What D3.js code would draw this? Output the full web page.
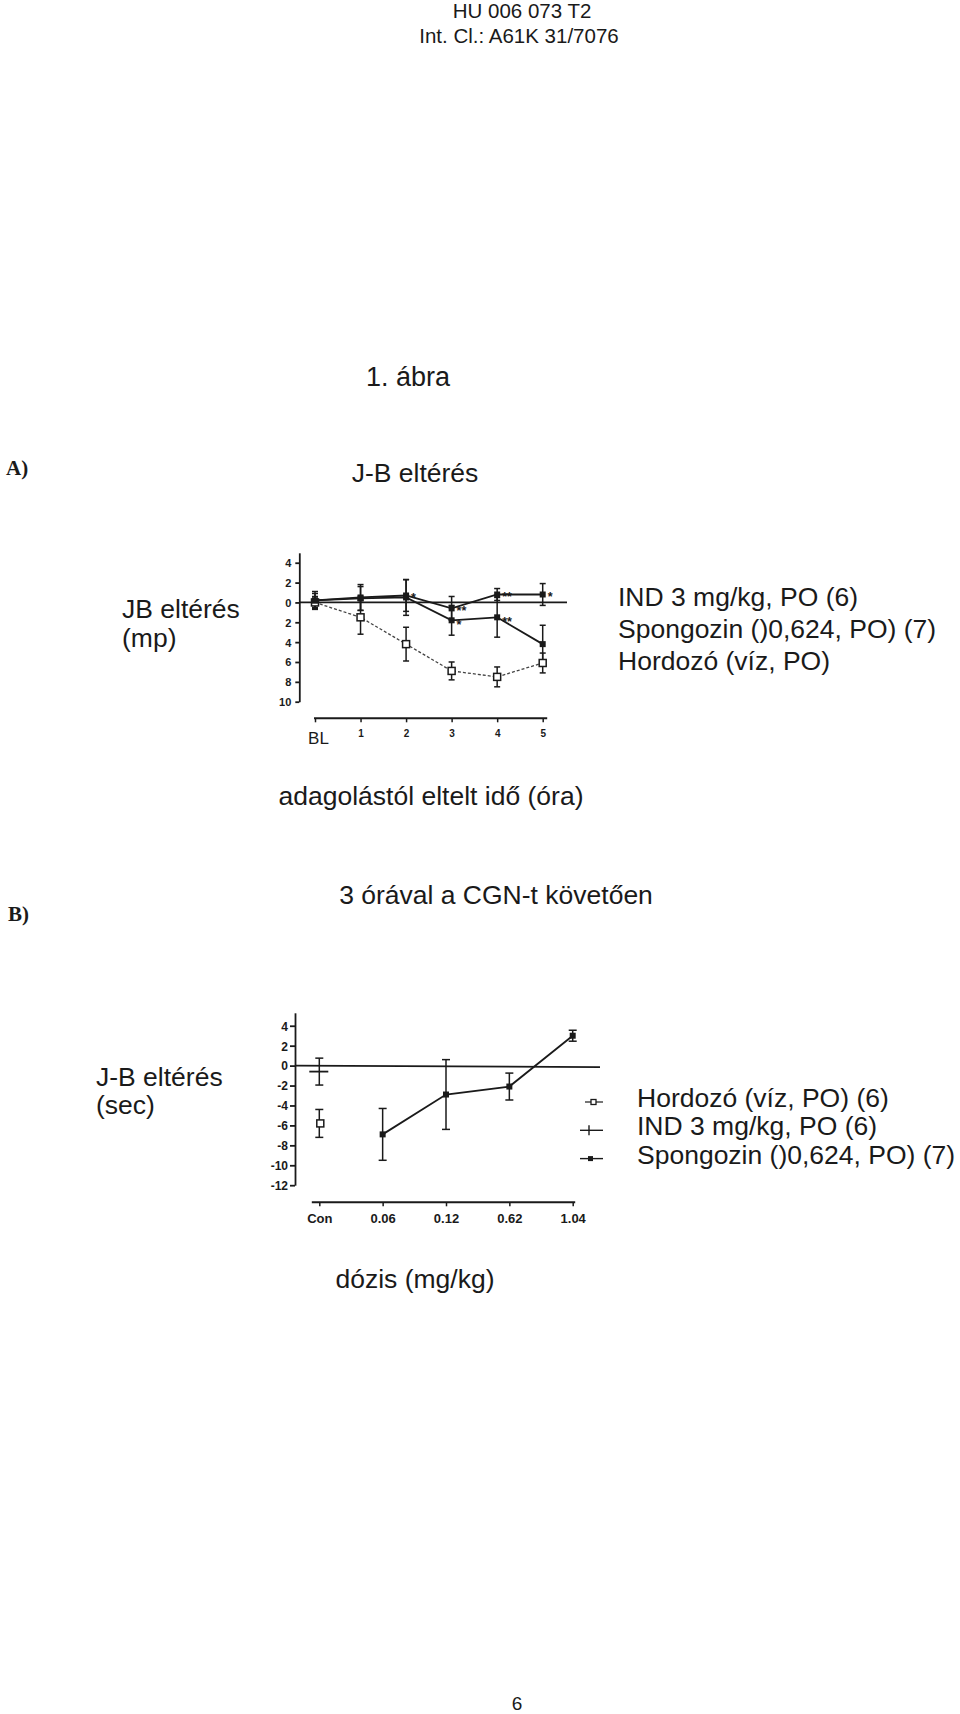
<!DOCTYPE html>
<html>
<head>
<meta charset="utf-8">
<script src="https://cdn.jsdelivr.net/npm/d3@7"></script>
<style>
  html, body { margin: 0; padding: 0; background: #fff; }
  svg { display: block; }
  text { font-family: "Liberation Sans", Arial, sans-serif; fill: #1a1a1a; }
</style>
</head>
<body>
<svg id="chart" width="960" height="1714"></svg>
<script>
// ---------------- DATA ----------------
// Panel A: J-B eltérés over time
const aCategories = ["BL", "1", "2", "3", "4", "5"];
const aIND        = [0.2, 0.5, 0.7, -0.6, 0.8, 0.8];
const aINDErr     = [0.9, 1.3, 1.6, 1.2, 0.6, 1.1];
const aSpong      = [0.2, 0.4, 0.5, -1.8, -1.5, -4.2];
const aSpongErr   = [0.7, 1.2, 1.8, 1.5, 2.0, 1.9];
const aVehicle    = [0.0, -1.5, -4.2, -6.9, -7.5, -6.1];
const aVehicleErr = [0.6, 1.7, 1.7, 0.9, 1.0, 1.0];
const aYTicks      = [4, 2, 0, -2, -4, -6, -8, -10];
const aYTickLabels = ["4", "2", "0", "2", "4", "6", "8", "10"];
const aStarSeries  = ["IND", "IND", "IND", "IND", "Spong", "Spong"];
const aStarIndex   = [2, 3, 4, 5, 3, 4];
const aStarText    = ["*", "**", "**", "*", "*", "**"];
const aLegend      = ["IND 3 mg/kg, PO (6)", "Spongozin ()0,624, PO) (7)", "Hordozó (víz, PO)"];

// Panel B: 3 hours after CGN, by dose
const bCategories   = ["Con", "0.06", "0.12", "0.62", "1.04"];
const bVehicleCat   = ["Con"];
const bVehicleVal   = [-5.8];
const bVehicleErr   = [1.4];
const bINDCat       = ["Con"];
const bINDVal       = [-0.6];
const bINDErr       = [1.35];
const bSpongCat     = ["0.06", "0.12", "0.62", "1.04"];
const bSpongVal     = [-6.9, -2.9, -2.1, 3.0];
const bSpongErr     = [2.6, 3.5, 1.35, 0.55];
const bYTicks       = [4, 2, 0, -2, -4, -6, -8, -10, -12];
const bYTickLabels  = ["4", "2", "0", "-2", "-4", "-6", "-8", "-10", "-12"];
const bLegend       = ["Hordozó (víz, PO) (6)", "IND 3 mg/kg, PO (6)", "Spongozin ()0,624, PO) (7)"];
const bLegendSymbol = ["open", "plus", "filled"];

// ---------------- DRAW ----------------
const ink = "#1a1a1a";
const svg = d3.select("#chart");

function txt(x, y, s, size, opts = {}) {
  const t = svg.append("text").attr("x", x).attr("y", y).text(s)
    .style("font-size", size + "px");
  if (opts.anchor) t.attr("text-anchor", opts.anchor);
  if (opts.weight) t.style("font-weight", opts.weight);
  if (opts.family) t.style("font-family", opts.family);
  return t;
}

// header + page texts
txt(522, 18, "HU 006 073 T2", 20.5, {anchor: "middle"});
txt(519, 43, "Int. Cl.: A61K 31/7076", 20.5, {anchor: "middle"});
txt(408, 386, "1. ábra", 27, {anchor: "middle"});
txt(6, 475, "A)", 21, {weight: "bold", family: "'Liberation Serif', 'Times New Roman', serif"});
txt(415, 482, "J-B eltérés", 26.5, {anchor: "middle"});
txt(122, 618, "JB eltérés", 26.5);
txt(122, 647, "(mp)", 26.5);
txt(431, 805, "adagolástól eltelt idő (óra)", 26.5, {anchor: "middle"});
txt(8, 921, "B)", 21, {weight: "bold", family: "'Liberation Serif', 'Times New Roman', serif"});
txt(496, 904, "3 órával a CGN-t követően", 26.5, {anchor: "middle"});
txt(96, 1086, "J-B eltérés", 26.5);
txt(96, 1114, "(sec)", 26.5);
txt(415, 1288, "dózis (mg/kg)", 26.5, {anchor: "middle"});
txt(517, 1710, "6", 19, {anchor: "middle"});

// ---------- Panel A ----------
const ax = d3.scalePoint().domain(aCategories).range([315, 542.7]);
const ay = d3.scaleLinear().domain([5, -10]).range([552.8, 701.7]);
const aLeft = 299.3, aBottom = 718.3;

const gA = svg.append("g");
// y axis
const yAxA = gA.append("g").attr("transform", `translate(${aLeft},0)`)
  .call(d3.axisLeft(ay).tickValues(aYTicks).tickFormat((d, i) => aYTickLabels[i])
        .tickSize(4).tickSizeOuter(0).tickPadding(4));
yAxA.selectAll("path,line").attr("stroke", ink).attr("stroke-width", 1.8);
yAxA.selectAll("text").style("font-size", "11px").style("font-weight", "bold")
  .attr("fill", ink).attr("dy", "0.36em");

// zero line
gA.append("line").attr("x1", aLeft).attr("x2", 567).attr("y1", ay(0)).attr("y2", ay(0))
  .attr("stroke", ink).attr("stroke-width", 1.8);

// x axis
const xAxA = gA.append("g").attr("transform", `translate(0,${aBottom})`)
  .call(d3.axisBottom(ax).tickSize(4).tickSizeOuter(0));
xAxA.select(".domain").remove();
xAxA.selectAll("line").attr("stroke", ink).attr("stroke-width", 1.5);
gA.append("line").attr("x1", ax(aCategories[0]) - 1).attr("x2", ax(aCategories[aCategories.length - 1]) + 4.5)
  .attr("y1", aBottom).attr("y2", aBottom).attr("stroke", ink).attr("stroke-width", 2);
xAxA.selectAll("text").attr("dy", 0).attr("fill", ink)
  .each(function(d) {
    const t = d3.select(this);
    if (d === "BL") t.attr("y", 26).attr("dx", 3).style("font-size", "17px");
    else t.attr("y", 18.5).style("font-size", "10px").style("font-weight", "bold");
  });

const aSeries = {
  IND: {v: aIND, e: aINDErr},
  Spong: {v: aSpong, e: aSpongErr},
  Veh: {v: aVehicle, e: aVehicleErr}
};

function drawErrA(key, cap) {
  const s = aSeries[key];
  const g = gA.append("g").attr("stroke", ink).attr("stroke-width", 1.5);
  aCategories.forEach((c, i) => {
    const x = ax(c), y1 = ay(s.v[i] + s.e[i]), y2 = ay(s.v[i] - s.e[i]);
    g.append("line").attr("x1", x).attr("x2", x).attr("y1", y1).attr("y2", y2);
    g.append("line").attr("x1", x - cap).attr("x2", x + cap).attr("y1", y1).attr("y2", y1);
    g.append("line").attr("x1", x - cap).attr("x2", x + cap).attr("y1", y2).attr("y2", y2);
  });
}
drawErrA("Veh", 3);
drawErrA("Spong", 3);
drawErrA("IND", 3);

const lineA = d3.line().x((d, i) => ax(aCategories[i])).y(d => ay(d));
gA.append("path").datum(aVehicle).attr("d", lineA).attr("fill", "none")
  .attr("stroke", "#444").attr("stroke-width", 1.3).attr("stroke-dasharray", "3,2");
gA.append("path").datum(aSpong).attr("d", lineA).attr("fill", "none")
  .attr("stroke", ink).attr("stroke-width", 1.8);
gA.append("path").datum(aIND).attr("d", lineA).attr("fill", "none")
  .attr("stroke", ink).attr("stroke-width", 1.8);

// markers
gA.selectAll(".mv").data(aVehicle).enter().append("rect")
  .attr("x", (d, i) => ax(aCategories[i]) - 3.5).attr("y", d => ay(d) - 3.5)
  .attr("width", 7).attr("height", 7).attr("fill", "#fff").attr("stroke", ink).attr("stroke-width", 1.5);
gA.selectAll(".ms").data(aSpong).enter().append("rect")
  .attr("x", (d, i) => ax(aCategories[i]) - 3).attr("y", d => ay(d) - 3)
  .attr("width", 6).attr("height", 6).attr("fill", ink);
gA.selectAll(".mi").data(aIND).enter().append("rect")
  .attr("x", (d, i) => ax(aCategories[i]) - 3).attr("y", d => ay(d) - 3)
  .attr("width", 6).attr("height", 6).attr("fill", ink);

// significance stars
aStarText.forEach((s, k) => {
  const ser = aSeries[aStarSeries[k]];
  const i = aStarIndex[k];
  const extra = aStarSeries[k] === "Spong" ? 2 : 0;
  gA.append("text").attr("x", ax(aCategories[i]) + 5).attr("y", ay(ser.v[i]) + 7 + extra)
    .text(s).style("font-size", "12.5px").style("font-weight", "bold");
});

// legend A (text only)
aLegend.forEach((s, i) => txt(618, 606 + i * 32, s, 26.5));

// ---------- Panel B ----------
const bx = d3.scalePoint().domain(bCategories).range([319.3, 572.7]);
const by = d3.scaleLinear().domain([5.3, -12]).range([1012.8, 1185.2]);
const bLeft = 295, bBottom = 1202.3;
const gB = svg.append("g");

const yAxB = gB.append("g").attr("transform", `translate(${bLeft},0)`)
  .call(d3.axisLeft(by).tickValues(bYTicks).tickFormat((d, i) => bYTickLabels[i])
        .tickSize(5).tickSizeOuter(0).tickPadding(2));
yAxB.selectAll("path,line").attr("stroke", ink).attr("stroke-width", 1.8);
yAxB.selectAll("text").style("font-size", "12px").style("font-weight", "bold")
  .attr("fill", ink).attr("dy", "0.36em");

gB.append("line").attr("x1", bLeft).attr("x2", 600).attr("y1", by(0)).attr("y2", by(0) + 1.5)
  .attr("stroke", ink).attr("stroke-width", 1.8);

const xAxB = gB.append("g").attr("transform", `translate(0,${bBottom})`)
  .call(d3.axisBottom(bx).tickSize(4).tickSizeOuter(0));
xAxB.select(".domain").remove();
xAxB.selectAll("line").attr("stroke", ink).attr("stroke-width", 1.5);
gB.append("line").attr("x1", bx(bCategories[0]) - 7.5).attr("x2", bx(bCategories[bCategories.length - 1]) + 2.5)
  .attr("y1", bBottom).attr("y2", bBottom).attr("stroke", ink).attr("stroke-width", 2);
xAxB.selectAll("text").attr("dy", 0).attr("y", 21).attr("fill", ink)
  .style("font-size", "13px").style("font-weight", "bold");

function drawErrB(cats, vals, errs, cap) {
  const g = gB.append("g").attr("stroke", ink).attr("stroke-width", 1.5);
  cats.forEach((c, i) => {
    const x = bx(c), y1 = by(vals[i] + errs[i]), y2 = by(vals[i] - errs[i]);
    g.append("line").attr("x1", x).attr("x2", x).attr("y1", y1).attr("y2", y2);
    g.append("line").attr("x1", x - cap).attr("x2", x + cap).attr("y1", y1).attr("y2", y1);
    g.append("line").attr("x1", x - cap).attr("x2", x + cap).attr("y1", y2).attr("y2", y2);
  });
}
drawErrB(bVehicleCat, bVehicleVal, bVehicleErr, 4);
drawErrB(bINDCat, bINDVal, bINDErr, 4);
drawErrB(bSpongCat, bSpongVal, bSpongErr, 4);

const lineB = d3.line().x((d, i) => bx(bSpongCat[i])).y(d => by(d));
gB.append("path").datum(bSpongVal).attr("d", lineB).attr("fill", "none")
  .attr("stroke", ink).attr("stroke-width", 1.8);

gB.selectAll(".bv").data(bVehicleVal).enter().append("rect")
  .attr("x", (d, i) => bx(bVehicleCat[i]) - 3.5 + 1).attr("y", d => by(d) - 3.5)
  .attr("width", 7).attr("height", 7).attr("fill", "#fff").attr("stroke", ink).attr("stroke-width", 1.5);
gB.selectAll(".bi").data(bINDVal).enter().append("line")
  .attr("x1", (d, i) => bx(bINDCat[i]) - 10).attr("x2", (d, i) => bx(bINDCat[i]) + 9)
  .attr("y1", d => by(d)).attr("y2", d => by(d)).attr("stroke", ink).attr("stroke-width", 1.8);
gB.selectAll(".bs").data(bSpongVal).enter().append("rect")
  .attr("x", (d, i) => bx(bSpongCat[i]) - 3).attr("y", d => by(d) - 3)
  .attr("width", 6).attr("height", 6).attr("fill", ink);

// legend B
bLegend.forEach((s, i) => {
  const yb = 1107 + i * 28.3;
  const cy = yb - 5;
  txt(637, yb, s, 26.5);
  const g = gB.append("g").attr("stroke", ink);
  const sym = bLegendSymbol[i];
  if (sym === "open") {
    g.append("line").attr("x1", 585).attr("x2", 603).attr("y1", cy).attr("y2", cy).attr("stroke-width", 1.2);
    g.append("rect").attr("x", 591).attr("y", cy - 2.5).attr("width", 5).attr("height", 5)
      .attr("fill", "#fff").attr("stroke-width", 1.3);
  } else if (sym === "plus") {
    g.append("line").attr("x1", 580).attr("x2", 603).attr("y1", cy).attr("y2", cy).attr("stroke-width", 1.4);
    g.append("line").attr("x1", 589).attr("x2", 589).attr("y1", cy - 5).attr("y2", cy + 5).attr("stroke-width", 1.4);
  } else {
    g.append("line").attr("x1", 580).attr("x2", 603).attr("y1", cy).attr("y2", cy).attr("stroke-width", 1.4);
    g.append("rect").attr("x", 588).attr("y", cy - 2.5).attr("width", 5).attr("height", 5)
      .attr("fill", ink).attr("stroke", "none");
  }
});
</script>
</body>
</html>
